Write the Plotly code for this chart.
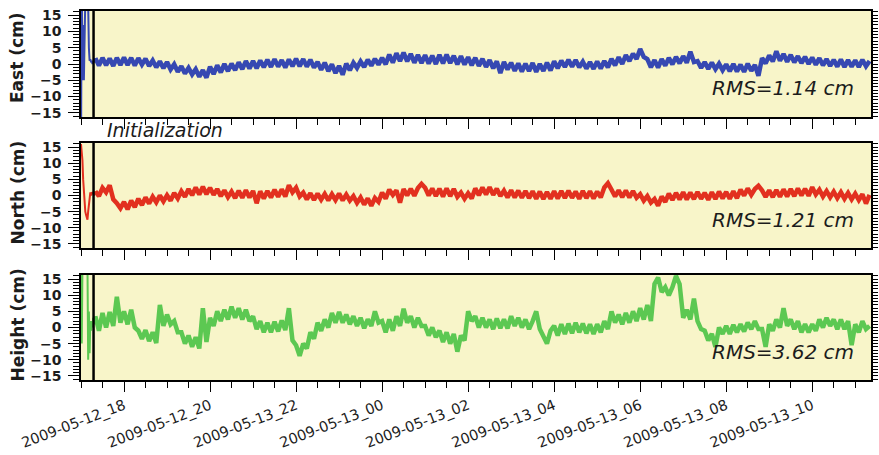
import pandas as pd
import plotly.graph_objects as go

# ---- GNSS kinematic positioning errors, 2009-05-12 17:00 .. 2009-05-13 11:20 ----
# First 20 minutes (1-min samples): filter initialization
EAST_INIT = [-30, 30, -5, 12, -5, 11, 20, 25, 25, 22, 18, 5, 1.0, 1.5, 0.5, 1.0, 0.0, 1.0, 0.5, 1.0]
NORTH_INIT = [16, 14, 11, 5, 0, -3, -5, -6, -7, -7.5, -5, -2, 0, 1, 0, 1, 0.5, 1, 0, 1]
HEIGHT_INIT = [20, -5, 18, 25, 25, 25, 25, 25, 25, 20, -10, 5, -8, 2, -1, 2, 0, 3, 1, 2]

# From 17:20 onwards, 5-min samples (one line per hour)
EAST_CM = [
    1.8, -0.5, 1.9, -0.4, 1.7, -0.6, 1.9, -0.3,                               # 17h (from :20)
    2.0, -0.3, 1.9, -0.5, 1.8, -0.2, 1.6, -0.6, 1.1, -1.0, 0.8, -1.3,         # 18h
    0.6, -1.7, -0.1, -2.4, -0.7, -2.9, -1.2, -3.2, -1.6, -3.9, -1.9, -4.2,    # 19h
    -0.8, -3.1, -0.4, -2.6, 0.0, -2.2, 0.1, -1.9, 0.5, -1.6, 0.9, -1.4,       # 20h
    0.9, -1.3, 1.1, -1.0, 1.3, -0.9, 1.5, -0.8, 1.2, -1.1, 1.4, -0.7,         # 21h
    1.6, -0.7, 1.5, -0.8, 1.3, -1.1, 0.6, -1.8, 0.4, -2.2, -0.1, -2.8,        # 22h
    -0.6, -3.3, 0.1, -1.9, 0.4, -1.2, 0.8, -0.9, 1.3, -0.5, 1.6, -0.2,        # 23h
    1.9, -0.1, 2.9, 0.4, 3.3, 0.9, 3.5, 0.8, 3.1, 0.4, 2.8, 0.3,              # 00h
    2.7, 0.1, 2.6, 0.0, 2.8, 0.2, 2.9, 0.3, 2.5, -0.1, 2.4, -0.2,             # 01h
    2.1, -0.4, 1.9, -0.6, 1.6, -0.9, 1.2, -1.3, 0.8, -2.8, 0.6, -1.7,         # 02h
    0.4, -2.1, 0.2, -2.3, 0.1, -2.2, 0.3, -2.4, 0.0, -2.1, 0.4, -2.0,         # 03h
    0.8, -1.3, 1.0, -0.9, 1.3, -0.8, 1.2, -1.0, 0.7, -1.4, 0.6, -1.5,         # 04h
    0.8, -1.4, 0.9, -1.0, 1.6, -0.4, 2.1, 0.0, 2.7, 0.9, 3.2, 1.5,            # 05h
    4.6, 2.2, 1.5, -1.0, 1.2, -1.1, 1.5, -0.5, 1.9, -0.1, 2.2, 0.2,           # 06h
    2.4, 0.4, 3.8, 0.6, 0.9, -1.2, 0.6, -1.5, 0.4, -1.6, 0.1, -1.9,           # 07h
    -0.1, -2.2, 0.0, -2.3, -0.2, -2.4, 0.1, -2.1, -0.3, -3.6, 1.8, 0.2,       # 08h
    2.6, 0.8, 3.9, 1.0, 3.1, 0.7, 2.8, 0.5, 2.4, 0.3, 2.2, 0.0,               # 09h
    2.0, -0.2, 1.8, -0.4, 1.5, -0.6, 1.3, -0.8, 1.4, -0.9, 1.2, -0.8,         # 10h
    1.1, -0.9, 1.3, -0.7, 0.9,                                                # 11h (to :20)
]

NORTH_CM = [
    1.3, -0.2, 2.4, 1.0, 3.2, -1.2, -2.4, -4.0,
    -2.0, -4.3, -1.6, -3.6, -1.0, -3.0, -0.6, -2.5, -0.4, -2.1, 0.0, -1.8,
    0.1, -1.6, 0.8, -0.9, 1.3, -0.4, 2.0, 0.1, 2.5, 0.3, 2.7, 0.4,
    2.4, 0.2, 2.0, -0.2, 1.6, -0.5, 1.2, -0.8, 1.5, -0.7, 1.6, -0.6,
    1.4, -2.4, 1.3, -0.9, 1.4, -0.6, 1.8, -0.4, 1.9, -0.3, 3.2, 1.0,
    2.4, -0.3, 0.9, -1.2, 0.7, -1.4, 0.6, -1.3, 0.5, -1.5, 0.4, -1.4,
    0.6, -1.5, 0.3, -1.6, -0.2, -2.3, -0.6, -2.8, -0.9, -3.2, -0.8, -2.0,
    0.9, -1.0, 1.8, 0.2, 1.6, -2.2, 2.0, 0.0, 2.1, -0.1, 2.3, 3.6,
    2.4, 0.0, 2.2, -0.2, 2.1, -0.3, 2.2, -0.2, 2.0, -0.4, 0.9, -1.0,
    0.7, -0.9, 2.2, 0.1, 2.5, 0.3, 2.6, 0.2, 2.1, -0.2, 1.5, -0.6,
    1.6, -0.6, 1.5, -0.7, 1.4, -0.8, 1.3, -1.0, 1.2, -1.1, 1.1, -1.0,
    1.3, -0.9, 1.4, -0.8, 1.5, -0.7, 1.2, -1.0, 1.4, -0.8, 1.3, -0.9,
    1.2, -0.6, 2.5, 3.8, 1.8, -0.3, 1.6, -0.5, 1.5, -0.6, 1.4, -0.7,
    0.4, -1.6, -0.2, -2.2, -1.1, -3.2, -0.3, -2.0, 0.6, -1.4, 0.8, -1.2,
    1.0, -1.2, 0.9, -1.1, 1.1, -1.0, 0.8, -1.3, 1.0, -1.1, 1.2, -0.9,
    1.1, -1.0, 1.3, -0.8, 1.8, 0.0, 2.2, 0.2, 2.0, 3.0, 1.6, -0.4,
    1.6, -0.5, 1.7, -0.4, 1.9, -0.3, 2.0, -0.2, 2.2, 0.0, 2.1, -0.1,
    2.6, 0.3, 1.8, -0.3, 1.4, -0.6, 1.2, -0.8, 1.0, -1.0, 0.8, -1.2,
    0.6, -1.4, 0.4, -2.5, 0.2,
]

HEIGHT_CM = [
    3.5, -1.0, 4.5, 0.0, 4.8, 0.5, 9.5, 1.5,
    5.0, 1.0, 5.5, 0.0, -1.0, -3.5, -0.8, -4.2, -1.5, -4.8, 7.0, 0.5,
    4.0, 1.0, 2.0, -1.5, -1.5, -5.0, -2.5, -6.0, -3.0, -6.5, 6.0, -4.5,
    3.0, 0.5, 5.0, 2.0, 5.5, 2.5, 6.5, 3.0, 6.0, 2.5, 5.5, 2.0,
    3.5, -0.5, 2.0, -1.5, 1.5, -1.5, 1.8, -1.2, 2.2, -0.8, 6.0, -4.0,
    -5.5, -8.8, -5.0, -6.5, -1.5, -3.5, 1.5, -1.0, 2.5, 0.0, 4.5, 1.5,
    4.8, 1.5, 4.0, 1.0, 3.5, 0.5, 3.0, -0.2, 2.5, 0.5, 5.0, 1.5,
    2.0, -1.5, 2.5, -1.0, 3.5, 0.5, 5.8, 1.5, 3.5, 0.0, 3.0, 0.5,
    0.5, -2.5, 0.0, -3.0, -1.0, -4.5, -1.5, -5.0, -2.0, -7.5, -2.5, -4.0,
    5.0, 2.0, 3.5, 0.0, 3.0, 0.0, 2.5, -0.5, 2.8, -0.2, 2.5, -0.3,
    3.5, 0.5, 3.0, 0.0, 2.5, -0.5, 2.0, 5.0, -0.5, -3.0, -5.0, -1.0,
    0.5, -2.5, 1.0, -2.0, 1.2, -1.8, 1.5, -1.5, 1.2, -1.8, 1.0, -2.0,
    1.0, -1.5, 2.0, -0.5, 5.0, 1.5, 4.0, 1.0, 4.5, 1.5, 5.0, 2.0,
    6.0, 2.5, 7.0, 2.0, 13.5, 15.5, 11.0, 12.5, 10.0, 12.5, 16.0, 13.5,
    3.0, 5.5, 2.5, 9.0, 2.0, -0.5, -1.0, -4.0, -2.0, -6.0, 0.0, -2.0,
    0.5, -2.0, 0.8, -1.5, 1.0, -1.2, 1.5, -0.5, 2.0, -0.5, -0.5, -6.0,
    1.0, -1.0, 2.5, 0.0, 6.0, 0.5, 2.5, -0.5, 2.0, -1.5, 1.0, -1.5,
    1.0, -1.0, 2.5, 0.0, 3.0, 0.5, 2.5, -0.5, 2.5, -0.5, 2.0, -5.5,
    1.0, -1.5, 2.0, -0.5, 0.5,
]

RMS_TEXT = ["RMS=1.14 cm", "RMS=1.21 cm", "RMS=3.62 cm"]
PANEL_TITLES = ["East (cm)", "North (cm)", "Height (cm)"]
LINE_COLORS = ["#3648b2", "#e2301f", "#5cc852"]

TICK_TIMES = ["2009-05-12 18:00", "2009-05-12 20:00", "2009-05-12 22:00",
              "2009-05-13 00:00", "2009-05-13 02:00", "2009-05-13 04:00",
              "2009-05-13 06:00", "2009-05-13 08:00", "2009-05-13 10:00"]
TICK_LABELS = ["2009-05-12_18", "2009-05-12_20", "2009-05-13_22",
               "2009-05-13_00", "2009-05-13_02", "2009-05-13_04",
               "2009-05-13_06", "2009-05-13_08", "2009-05-13_10"]

INIT_END = "2009-05-12 17:17:30"
X_RANGE = ["2009-05-12 17:00", "2009-05-13 11:22"]
Y_RANGE = [-16.3, 16.3]

# ---- time stamps ----
init_times = list(pd.date_range("2009-05-12 17:00", periods=len(EAST_INIT), freq="min"))
main_times = list(pd.date_range("2009-05-12 17:20", "2009-05-13 11:20", freq="5min"))

init_series = [EAST_INIT, NORTH_INIT, HEIGHT_INIT]
main_series = [EAST_CM, NORTH_CM, HEIGHT_CM]

W, H = 879, 455
x_dom = [81 / W, 871 / W]
panel_px = [(11, 117), (143, 248), (275, 380)]   # top, bottom in pixels
y_doms = [[1 - b / H, 1 - t / H] for t, b in panel_px]

TXT = "#1c1c1c"
FONT = "DejaVu Sans"

fig = go.Figure()
for i in range(3):
    n = "" if i == 0 else str(i + 1)
    col = LINE_COLORS[i]
    # convergence phase: thin line, joined to the first regular sample
    fig.add_trace(go.Scatter(
        x=init_times + main_times[:1], y=init_series[i] + main_series[i][:1],
        mode="lines", line=dict(color=col, width=2),
        xaxis="x" + n, yaxis="y" + n, showlegend=False, hoverinfo="skip",
    ))
    # converged solution: dense noisy band
    fig.add_trace(go.Scatter(
        x=main_times, y=main_series[i], mode="lines",
        line=dict(color=col, width=4.5),
        xaxis="x" + n, yaxis="y" + n, showlegend=False, hoverinfo="skip",
    ))
    # overlay axis that carries the right-hand minor ticks
    fig.add_trace(go.Scatter(x=[], y=[], xaxis="x" + n, yaxis="y" + str(i + 4),
                             showlegend=False, hoverinfo="skip"))

layout = dict(
    width=W, height=H, autosize=False,
    margin=dict(l=0, r=0, t=0, b=0, autoexpand=False),
    paper_bgcolor="white", plot_bgcolor="#f8f5c9",
    showlegend=False,
)

for i in range(3):
    n = "" if i == 0 else str(i + 1)
    last = i == 2
    layout["xaxis" + n] = dict(
        domain=x_dom, anchor="y" + n, type="date", range=X_RANGE,
        tickvals=TICK_TIMES, ticktext=TICK_LABELS,
        showticklabels=last, tickangle=-21, automargin=False,
        tickfont=dict(family=FONT, size=14.5, color=TXT),
        ticks="outside", ticklen=10, tickwidth=1, tickcolor="black",
        minor=dict(dtick=30 * 60 * 1000, ticks="outside", ticklen=6,
                   tickwidth=1, tickcolor="black"),
        showline=True, linecolor="black", linewidth=1.6, mirror=True,
        showgrid=False, zeroline=False,
    )
    layout["yaxis" + n] = dict(
        domain=y_doms[i], anchor="x" + n, range=Y_RANGE, automargin=False,
        tickvals=[-15, -10, -5, 0, 5, 10, 15],
        tickfont=dict(family=FONT, size=14, color=TXT, weight="bold"),
        ticks="outside", ticklen=11, tickwidth=1, tickcolor="black",
        ticklabelstandoff=4,
        minor=dict(dtick=1, ticks="outside", ticklen=6, tickwidth=1,
                   tickcolor="black"),
        showline=True, linecolor="black", linewidth=1.6, mirror=True,
        showgrid=False, zeroline=False,
    )
    layout["yaxis" + str(i + 4)] = dict(
        overlaying="y" + n, anchor="x" + n, side="right", range=Y_RANGE,
        showticklabels=False, ticks="outside", ticklen=6, tickwidth=1,
        tickcolor="black", dtick=1, tick0=0, automargin=False,
        showline=False, showgrid=False, zeroline=False,
    )

fig.update_layout(**layout)

# end of the initialization period
for i in range(3):
    n = "" if i == 0 else str(i + 1)
    fig.add_shape(type="line", xref="x" + n, yref="y" + n + " domain",
                  x0=INIT_END, x1=INIT_END, y0=0, y1=1,
                  line=dict(color="black", width=2.5), layer="above")

# panel titles, RMS labels
title_centers = [58, 192.5, 325.5]
rms_centers = [88, 220, 352]
for i in range(3):
    fig.add_annotation(
        x=17 / W, y=1 - title_centers[i] / H, xref="paper", yref="paper",
        text=PANEL_TITLES[i], textangle=-90, showarrow=False,
        font=dict(family=FONT, size=17, color=TXT, weight="bold"),
        xanchor="center", yanchor="middle",
    )
    fig.add_annotation(
        x=856 / W, y=1 - rms_centers[i] / H, xref="paper", yref="paper",
        text=RMS_TEXT[i], showarrow=False,
        font=dict(family=FONT, size=20, color=TXT, style="italic"),
        xanchor="right", yanchor="middle",
    )

fig.add_annotation(
    x=164.5 / W, y=1 - 130 / H, xref="paper", yref="paper",
    text="Initialization", showarrow=False,
    font=dict(family=FONT, size=19, color=TXT, style="italic"),
    xanchor="center", yanchor="middle",
)

fig.write_html("out.html")
